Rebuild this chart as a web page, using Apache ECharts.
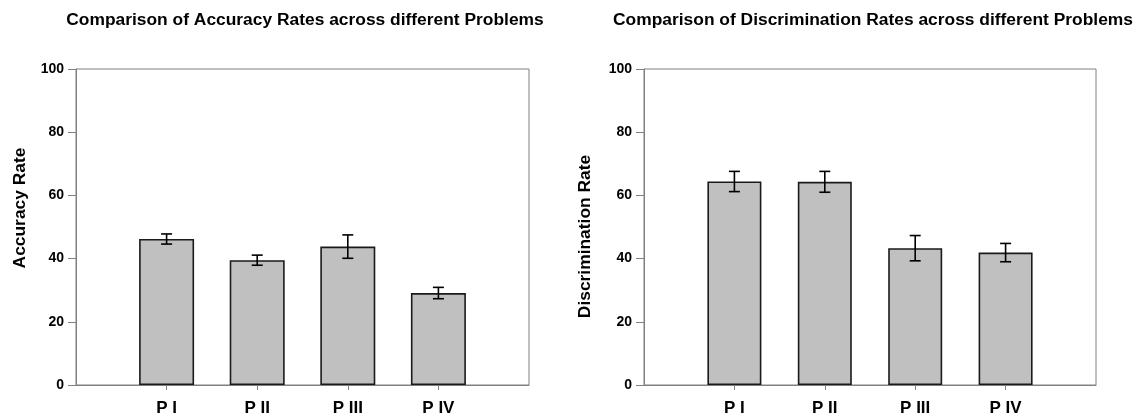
<!DOCTYPE html>
<html>
<head>
<meta charset="utf-8">
<script src="https://cdn.jsdelivr.net/npm/echarts@6/dist/echarts.min.js"></script>
<style>
  html, body { margin: 0; padding: 0; background: #fff; }
  #main { width: 1142px; height: 419px; }
</style>
</head>
<body>
<div id="main"></div>
<script>
// 数据
var problems = ['P I', 'P II', 'P III', 'P IV'];
var accMean = [46.2, 39.5, 43.8, 29.1];
var accErr = [1.6, 1.6, 3.7, 1.8];
var discMean = [64.4, 64.3, 43.3, 41.9];
var discErr = [3.2, 3.3, 4.0, 2.9];
var yTicks = [0, 20, 40, 60, 80, 100];

// 两边各留一个空位置，让柱子落在 1..4
var xCats = [''].concat(problems).concat(['']);
function pad(arr) { return [null].concat(arr).concat([null]); }
function errData(mean, err) {
    var out = [];
    for (var i = 0; i < mean.length; i++) {
        out.push([i + 1, mean[i] - err[i], mean[i] + err[i]]);
    }
    return out;
}

var dom = document.getElementById('main');
var myChart = echarts.init(dom);

var fontFamily = '"Liberation Sans", Arial, sans-serif';
var frameColor = '#808080';

function renderErr(params, api) {
    var x = api.value(0);
    var lo = api.coord([x, api.value(1)]);
    var hi = api.coord([x, api.value(2)]);
    var cap = 5.5;
    var style = { stroke: '#000', lineWidth: 1.6 };
    return {
        type: 'group',
        children: [
            { type: 'line', shape: { x1: lo[0], y1: lo[1], x2: hi[0], y2: hi[1] }, style: style },
            { type: 'line', shape: { x1: lo[0] - cap, y1: lo[1], x2: lo[0] + cap, y2: lo[1] }, style: style },
            { type: 'line', shape: { x1: hi[0] - cap, y1: hi[1], x2: hi[0] + cap, y2: hi[1] }, style: style }
        ]
    };
}

function xAxisOf(idx) {
    return {
        type: 'category',
        gridIndex: idx,
        data: xCats,
        boundaryGap: false,
        axisLine: { lineStyle: { color: frameColor, width: 1 } },
        axisTick: {
            length: 5,
            interval: function (i, v) { return v !== ''; },
            lineStyle: { color: frameColor }
        },
        axisLabel: {
            interval: 0,
            margin: 15,
            color: '#000',
            fontWeight: 'bold',
            fontSize: 17,
            fontFamily: fontFamily
        },
        splitLine: { show: false }
    };
}

function yAxisOf(idx, name, gap, pad) {
    return {
        type: 'value',
        gridIndex: idx,
        min: yTicks[0],
        max: yTicks[yTicks.length - 1],
        interval: 20,
        name: name,
        nameLocation: 'middle',
        nameGap: gap,
        nameTextStyle: {
            color: '#000',
            fontWeight: 'bold',
            fontSize: 17.4,
            fontFamily: fontFamily,
            padding: pad
        },
        axisLine: { show: true, lineStyle: { color: frameColor, width: 1 } },
        axisTick: { show: true, length: 8, lineStyle: { color: frameColor } },
        axisLabel: {
            margin: 12,
            color: '#000',
            fontWeight: 'bold',
            fontSize: 14,
            fontFamily: fontFamily
        },
        splitLine: { show: false }
    };
}

function titleOf(text, cx) {
    return {
        text: text,
        left: cx,
        top: 7,
        textAlign: 'center',
        textStyle: {
            color: '#000',
            fontWeight: 'bold',
            fontSize: 17.4,
            fontFamily: fontFamily
        }
    };
}

var barStyle = { color: '#c0c0c0', borderColor: '#1a1a1a', borderWidth: 1.6 };

option = {
    animation: false,
    backgroundColor: '#fff',
    title: [
        titleOf('Comparison of Accuracy Rates across different Problems', 300),
        titleOf('Comparison of Discrimination Rates across different Problems', 868)
    ],
    grid: [
        { left: 76, top: 69, width: 453, height: 316, show: true, borderColor: frameColor, borderWidth: 1, backgroundColor: 'transparent' },
        { left: 644, top: 69, width: 452, height: 316, show: true, borderColor: frameColor, borderWidth: 1, backgroundColor: 'transparent' }
    ],
    xAxis: [xAxisOf(0), xAxisOf(1)],
    yAxis: [
        yAxisOf(0, 'Accuracy Rate', 47, [0, 0, 0, 38]),
        yAxisOf(1, 'Discrimination Rate', 50, [0, 19, 0, 0])
    ],
    series: [
        {
            type: 'bar', xAxisIndex: 0, yAxisIndex: 0,
            data: pad(accMean), barWidth: 55, itemStyle: barStyle
        },
        {
            type: 'custom', xAxisIndex: 0, yAxisIndex: 0,
            data: errData(accMean, accErr), renderItem: renderErr, z: 5
        },
        {
            type: 'bar', xAxisIndex: 1, yAxisIndex: 1,
            data: pad(discMean), barWidth: 54, itemStyle: barStyle
        },
        {
            type: 'custom', xAxisIndex: 1, yAxisIndex: 1,
            data: errData(discMean, discErr), renderItem: renderErr, z: 5
        }
    ]
};

myChart.setOption(option);
</script>
</body>
</html>
